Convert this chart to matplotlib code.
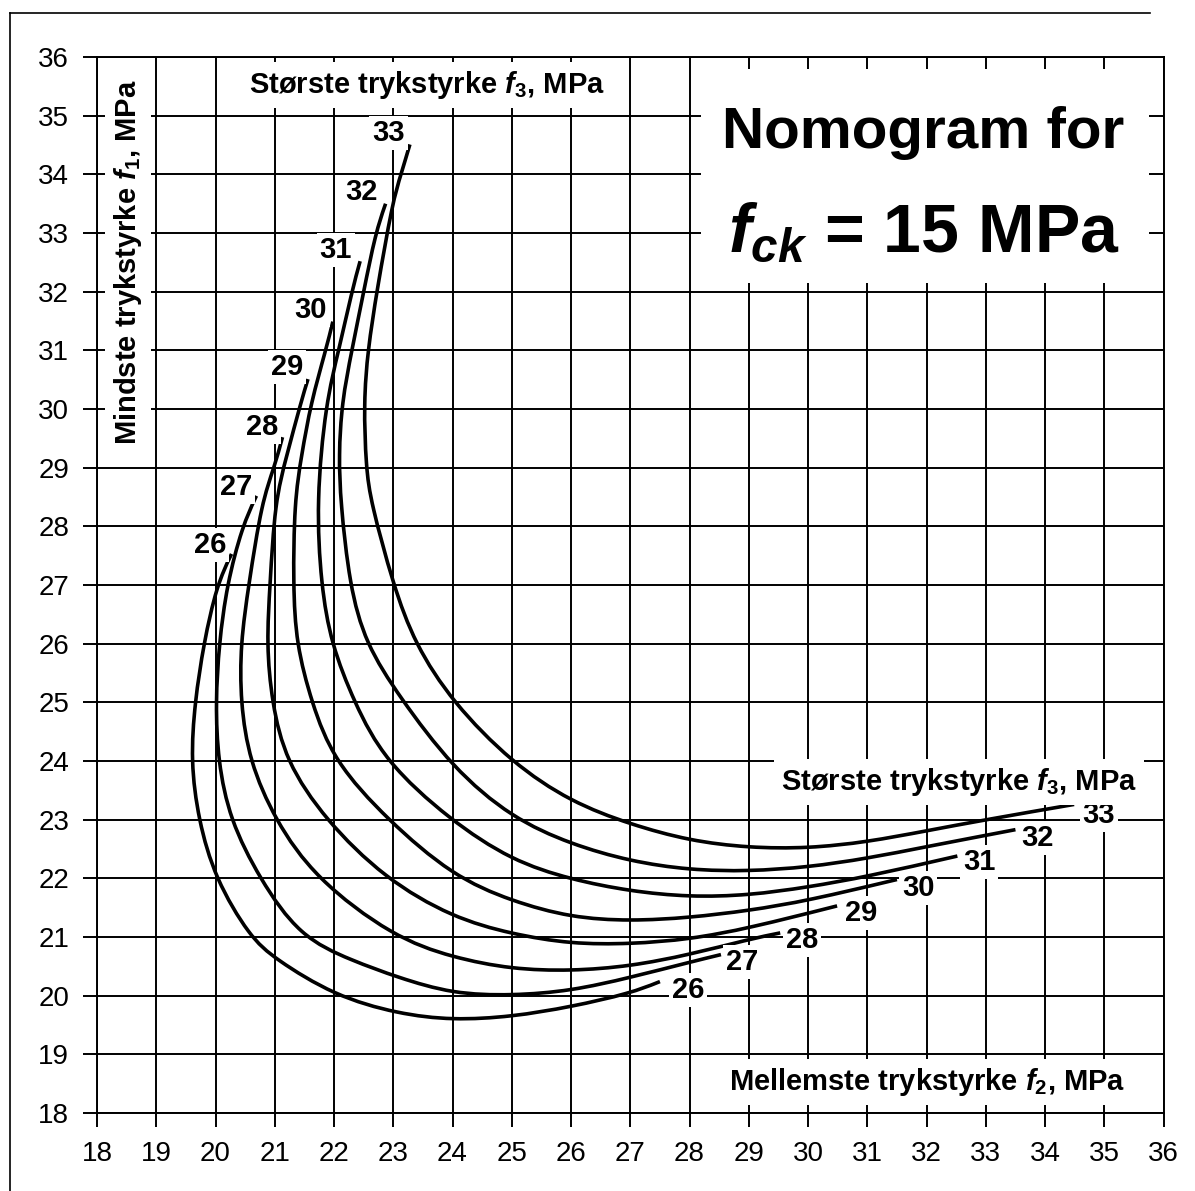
import numpy as np
import matplotlib
matplotlib.use('Agg')
import matplotlib.pyplot as plt
from matplotlib.path import Path
from matplotlib.patches import PathPatch, Rectangle
from matplotlib.lines import Line2D

plt.rcParams['font.family'] = 'Liberation Sans'
plt.rcParams['mathtext.fontset'] = 'custom'
plt.rcParams['mathtext.rm'] = 'Liberation Sans:bold'
plt.rcParams['mathtext.it'] = 'Liberation Sans:italic:bold'
plt.rcParams['mathtext.bf'] = 'Liberation Sans:bold'

# Nomogram fck = 15 MPa : f2 (mellemste) horisontalt, f1 (mindste) vertikalt
# en kurve pr. stoerste trykstyrke f3 = 26..33 MPa
ticks = list(range(18, 37))

f3_26_x = [20.27, 20.02, 19.80, 19.65, 19.58, 19.71, 19.99, 20.58, 21.00, 22.00, 23.08, 24.00, 25.00, 26.00, 27.00, 27.50]
f3_26_y = [27.53, 27.00, 26.00, 25.00, 24.00, 23.00, 22.00, 21.00, 20.63, 20.00, 19.69, 19.58, 19.64, 19.81, 20.04, 20.24]

f3_27_x = [20.69, 20.45, 20.19, 20.06, 20.00, 20.04, 20.24, 20.74, 21.42, 22.30, 23.08, 24.00, 25.00, 26.00, 27.00, 28.00, 28.53]
f3_27_y = [28.52, 28.00, 27.00, 26.00, 25.00, 24.00, 23.00, 22.00, 21.00, 20.60, 20.31, 20.03, 20.00, 20.08, 20.31, 20.57, 20.70]

f3_28_x = [21.13, 20.99, 20.78, 20.56, 20.42, 20.42, 20.57, 21.00, 21.68, 23.00, 24.00, 25.00, 26.00, 27.00, 28.00, 29.00, 29.53]
f3_28_y = [29.52, 29.00, 28.42, 27.00, 26.00, 25.00, 24.00, 23.00, 22.00, 21.00, 20.65, 20.45, 20.42, 20.50, 20.70, 20.96, 21.07]

f3_29_x = [21.56, 21.44, 21.20, 21.00, 20.92, 20.86, 20.95, 21.18, 21.85, 22.85, 24.00, 25.00, 26.00, 27.00, 28.00, 29.00, 30.49]
f3_29_y = [30.51, 30.11, 29.20, 28.42, 27.00, 26.00, 25.00, 24.00, 23.00, 22.00, 21.33, 21.05, 20.88, 20.88, 20.96, 21.15, 21.53]

f3_30_x = [21.98, 21.86, 21.61, 21.45, 21.33, 21.31, 21.36, 21.62, 21.99, 22.90, 24.00, 25.00, 26.00, 27.00, 28.00, 29.00, 30.00, 31.50]
f3_30_y = [31.49, 31.00, 30.11, 29.20, 28.42, 27.00, 26.00, 25.00, 24.00, 23.00, 22.04, 21.61, 21.33, 21.27, 21.33, 21.45, 21.62, 21.98]

f3_31_x = [22.44, 22.30, 22.08, 21.86, 21.70, 21.78, 21.95, 22.34, 22.85, 23.95, 25.00, 26.00, 27.00, 28.00, 29.00, 30.00, 31.00, 32.52]
f3_31_y = [32.52, 32.00, 31.00, 30.11, 28.42, 27.00, 26.00, 25.00, 24.00, 23.00, 22.30, 21.98, 21.78, 21.68, 21.71, 21.85, 22.03, 22.38]

f3_32_x = [22.87, 22.70, 22.50, 22.30, 22.13, 22.08, 22.11, 22.26, 22.53, 23.10, 24.00, 25.00, 26.00, 27.00, 28.00, 29.00, 30.00, 31.00, 32.00, 33.50]
f3_32_y = [33.50, 33.00, 32.00, 31.00, 30.11, 29.20, 28.42, 27.00, 26.00, 25.10, 23.88, 23.03, 22.58, 22.29, 22.14, 22.12, 22.19, 22.34, 22.54, 22.83]

f3_33_x = [23.28, 23.13, 22.99, 22.72, 22.57, 22.50, 22.54, 22.62, 23.00, 23.36, 24.00, 25.00, 26.00, 27.00, 28.00, 29.00, 30.00, 31.00, 32.00, 33.00, 34.49]
f3_33_y = [34.51, 34.00, 33.54, 32.00, 31.00, 30.11, 29.00, 28.42, 27.00, 26.00, 25.00, 23.97, 23.30, 22.92, 22.64, 22.52, 22.51, 22.62, 22.81, 23.00, 23.26]

curve_labels = ['26', '27', '28', '29', '30', '31', '32', '33']
top_label_x = [19.91, 20.34, 20.78, 21.20, 21.61, 22.03, 22.47, 22.92]
top_label_y = [27.68, 28.67, 29.69, 30.72, 31.69, 32.71, 33.70, 34.70]
end_label_x = [27.97, 28.88, 29.90, 30.90, 31.86, 32.89, 33.87, 34.91]
end_label_y = [20.10, 20.58, 20.95, 21.41, 21.84, 22.28, 22.69, 23.08]

curves = [(f3_26_x, f3_26_y), (f3_27_x, f3_27_y), (f3_28_x, f3_28_y), (f3_29_x, f3_29_y),
          (f3_30_x, f3_30_y), (f3_31_x, f3_31_y), (f3_32_x, f3_32_y), (f3_33_x, f3_33_y)]


def smooth_path(xs, ys):
    """Kubisk B-spline med de aflaeste punkter som styrepunkter (glatter aflaesningsstoej)."""
    P = np.column_stack([xs, ys]).astype(float)
    P = np.vstack([P[0], P[0], P, P[-1], P[-1]])
    verts, codes = [], []
    for i in range(len(P) - 3):
        p0, p1, p2, p3 = P[i], P[i + 1], P[i + 2], P[i + 3]
        if i == 0:
            verts.append((p0 + 4 * p1 + p2) / 6.0)
            codes.append(Path.MOVETO)
        verts += [(2 * p1 + p2) / 3.0, (p1 + 2 * p2) / 3.0, (p1 + 4 * p2 + p3) / 6.0]
        codes += [Path.CURVE4] * 3
    return Path(verts, codes)


fig = plt.figure(figsize=(11.95, 11.91), dpi=100)
ax = fig.add_axes([0.0812, 0.0655, 0.8925, 0.8866])

ax.set_xlim(18, 36)
ax.set_ylim(18, 36)
ax.set_xticks(ticks)
ax.set_yticks(ticks)
ax.set_axisbelow(True)
ax.grid(True, color='black', linewidth=1.4)
ax.tick_params(direction='out', length=10, width=1.4, labelsize=20, pad=10, colors='black')
for s in ax.spines.values():
    s.set_linewidth(1.4)

for xs, ys in curves:
    ax.add_patch(PathPatch(smooth_path(xs, ys), facecolor='none', edgecolor='black',
                           linewidth=2.6, zorder=3, capstyle='butt'))

box = dict(facecolor='white', edgecolor='none', pad=2)
for lab, x, y in zip(curve_labels, top_label_x, top_label_y):
    ax.text(x, y, lab, fontsize=21, fontweight='bold', ha='center', va='center', zorder=4, bbox=box)
for lab, x, y in zip(curve_labels, end_label_x, end_label_y):
    ax.text(x, y, lab, fontsize=21, fontweight='bold', ha='center', va='center', zorder=4, bbox=box)

# titelfelt
ax.add_patch(Rectangle((28.2, 32.15), 35.75 - 28.2, 35.8 - 32.15, facecolor='white',
                       edgecolor='none', zorder=2))
ax.text(31.95, 34.45, 'Nomogram for', fontsize=42, fontweight='bold', ha='center',
        va='baseline', zorder=4)
ax.text(31.95, 32.68, r'$f_{ck}$ = 15 MPa', fontsize=49, fontweight='bold', ha='center',
        va='baseline', zorder=4)

lbox = dict(facecolor='white', edgecolor='none', pad=5)
ax.text(23.57, 35.52, r'Største trykstyrke $f_3$, MPa', fontsize=21, fontweight='bold',
        ha='center', va='center', zorder=4, bbox=lbox)
ax.text(32.55, 23.64, r'Største trykstyrke $f_3$, MPa', fontsize=21, fontweight='bold',
        ha='center', va='center', zorder=4, bbox=lbox)
ax.text(32.01, 18.53, r'Mellemste trykstyrke $f_2$, MPa', fontsize=21, fontweight='bold',
        ha='center', va='center', zorder=4, bbox=lbox)
ax.text(18.52, 32.5, r'Mindste trykstyrke $f_1$, MPa', fontsize=21, fontweight='bold',
        ha='center', va='center', rotation=90, zorder=4, bbox=lbox)

# ramme fra den scannede side
fig.add_artist(Line2D([0.0084, 0.0084], [0.0, 0.989], color='black', linewidth=1.2))
fig.add_artist(Line2D([0.0084, 0.962], [0.989, 0.989], color='black', linewidth=1.2))

fig.savefig('out.png', dpi=100)
